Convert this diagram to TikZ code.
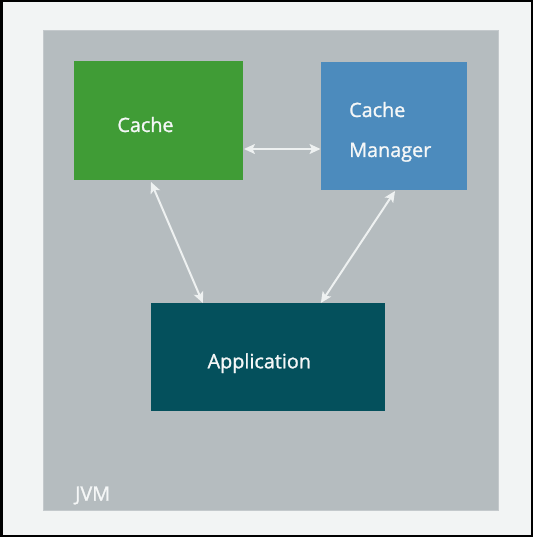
\documentclass[tikz,border=0pt]{standalone}
\usepackage{fontspec}
\setmainfont{Open Sans}
\newfontfamily\lblfont[FakeBold=1.2]{Open Sans}
\usetikzlibrary{arrows.meta}
\definecolor{bgc}{HTML}{F2F4F4}
\definecolor{jvmc}{HTML}{B5BCBF}
\definecolor{cachec}{HTML}{409C36}
\definecolor{mgrc}{HTML}{4C8BBD}
\definecolor{appc}{HTML}{04505C}
\definecolor{txtc}{HTML}{F5F7F7}
\definecolor{arrc}{HTML}{EEF1F1}
\tikzset{
  box/.style={draw=none, inner sep=0pt, outer sep=0pt},
  lbl/.style={text=txtc, font=\lblfont\fontsize{19.8}{23}\selectfont, inner sep=0pt},
  arr/.style={draw=arrc, line width=2pt, {Stealth[length=11pt,width=10pt,inset=2.5pt]}-{Stealth[length=11pt,width=10pt,inset=2.5pt]}},
}
\begin{document}
\begin{tikzpicture}[x=1pt,y=-1pt]
\useasboundingbox (0,0) rectangle (533,537);
\fill[bgc] (0,0) rectangle (533,537);
\draw[black, line width=2.5pt] (1.25,1.25) rectangle (531.75,535.75);
\node[box, fill=jvmc, draw=jvmc!80!white, line width=0.6pt, minimum width=455.7pt, minimum height=480.7pt] (jvm) at (270.85,270.35) {};
\node[box, fill=cachec, minimum width=169pt, minimum height=119pt] (cache) at (158.5,120.5) {};
\node[box, fill=mgrc, minimum width=146.5pt, minimum height=128pt] (mgr) at (393.75,126) {};
\node[box, fill=appc, minimum width=234.3pt, minimum height=107.6pt] (app) at (267.85,356.8) {};
\node[lbl, anchor=base] (cachelbl) at (145.5,132) {Cache};
\node[lbl, anchor=base west] (mgrlbl1) at (349,117) {Cache};
\node[lbl, anchor=base west] (mgrlbl2) at (349,157) {Manager};
\node[lbl, anchor=base] (applbl) at (259.3,368.3) {Application};
\node[lbl, anchor=base west] (jvmlbl) at (75,500.7) {JVM};
\draw[arr] ([yshift=-28.5pt,xshift=1pt]cache.east) -- ([yshift=-28.5pt]cache.east -| mgr.west);
\draw[arr] ([xshift=-7.5pt,yshift=-2pt]cache.south) -- ([xshift=-65pt]app.north);
\draw[arr] ([xshift=1.3pt,yshift=-1pt]mgr.south) -- ([xshift=53pt]app.north);
\end{tikzpicture}
\end{document}
